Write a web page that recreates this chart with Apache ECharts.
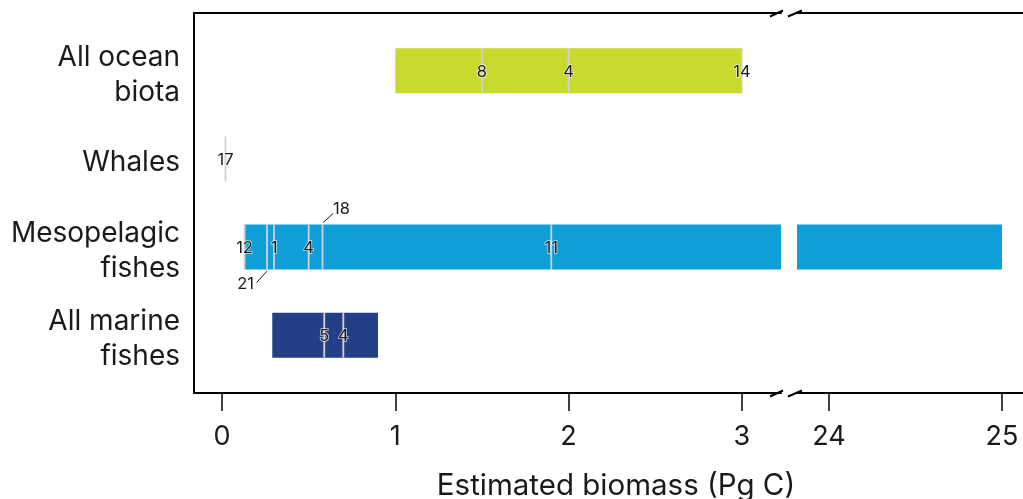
<!DOCTYPE html>
<html>
<head>
<meta charset="utf-8">
<script src="https://cdn.jsdelivr.net/npm/echarts@6/dist/echarts.min.js"></script>
<style>
html,body{margin:0;padding:0;background:#fff;}
#chart{width:1023px;height:499px;}
</style>
</head>
<body>
<div id="chart"></div>
<script>
// ---------- data ----------
const categories = ['All ocean\nbiota', 'Whales', 'Mesopelagic\nfishes', 'All marine\nfishes'];
const rangeMin = [1.0, 0.02, 0.13, 0.29];
const rangeMax = [3.0, 0.02, 25.0, 0.90];
const estCategory = [0, 0, 0, 1, 2, 2, 2, 2, 2, 2, 3, 3];
const estValue   = [1.5, 2.0, 3.0, 0.02, 0.13, 0.26, 0.30, 0.50, 0.58, 1.90, 0.59, 0.70];
const estRef     = ['8', '4', '14', '17', '12', '21', '1', '4', '18', '11', '5', '4'];
const xTicksLeft = [0, 1, 2, 3];
const xTicksRight = [24, 25];
const axisTitle = 'Estimated biomass (Pg C)';

// ---------- styles / layout ----------
const barColors = ['#C8DA2E', '#9a9a9a', '#0E9FD8', '#253E88'];
const FONT = 'Inter, "Noto Sans", sans-serif';
const TXT = '#1a1a1a';
const BAR_FRAC = 0.51;
const LABEL_SHIFT = 0.045; // small downward nudge of category labels (in category units)
const calloutDir = { '21': 'below', '18': 'above' };
const L = { left: 194, top: 13, bottom: 393, brkL: 781, brkR: 797, right: 1023 };
const Y_MIN = -0.655, Y_MAX = 3.655;
const LEFT_MIN = -0.1616, LEFT_MAX = 3.2256;
const RIGHT_MIN = 23.8153, RIGHT_MAX = 25.1212;

const chart = echarts.init(document.getElementById('chart'));

function rangeRender(params, api) {
  const cat = api.value(0), lo = api.value(1), hi = api.value(2);
  if (hi <= lo) return null;
  const p1 = api.coord([lo, cat]);
  const p2 = api.coord([hi, cat]);
  const h = api.size([0, 1])[1] * BAR_FRAC;
  const rect = echarts.graphic.clipRectByRect(
    { x: p1[0], y: p1[1] - h / 2, width: p2[0] - p1[0], height: h },
    { x: params.coordSys.x, y: params.coordSys.y, width: params.coordSys.width, height: params.coordSys.height }
  );
  if (!rect) return null;
  return { type: 'rect', shape: rect, style: { fill: barColors[cat] } };
}

function estRender(params, api) {
  const i = params.dataIndex;
  const cat = api.value(0), v = api.value(1);
  const p = api.coord([v, cat]);
  const h = api.size([0, 1])[1] * BAR_FRAC;
  const top = p[1] - h / 2, bot = p[1] + h / 2;
  const ref = estRef[i];
  const children = [{
    type: 'line',
    shape: { x1: p[0], y1: top, x2: p[0], y2: bot },
    style: { stroke: '#d2d2d2', lineWidth: 1.8 }
  }];
  let tx = p[0], ty = p[1] + 1, align = 'center';
  const dir = calloutDir[ref];
  if (dir === 'below') {
    children.push({ type: 'line', shape: { x1: p[0], y1: bot + 1.5, x2: p[0] - 10.5, y2: bot + 13 },
      style: { stroke: TXT, lineWidth: 1 } });
    tx = p[0] - 13; ty = bot + 14; align = 'right';
  } else if (dir === 'above') {
    children.push({ type: 'line', shape: { x1: p[0] + 0.5, y1: top - 2, x2: p[0] + 10.5, y2: top - 11 },
      style: { stroke: TXT, lineWidth: 1 } });
    tx = p[0] + 10.5; ty = top - 15.5; align = 'left';
  }
  children.push({
    type: 'text',
    style: {
      text: ref, x: tx, y: ty, align: align, verticalAlign: 'middle',
      fontSize: 16.5, fontFamily: FONT, fill: TXT,
      stroke: 'rgba(255,255,255,0.75)', lineWidth: 1.5
    }
  });
  return { type: 'group', children: children };
}

const rangeData = categories.map((c, i) => [i, rangeMin[i], rangeMax[i]]);
const estData = estValue.map((v, i) => [estCategory[i], v]);

const axisLineStyle = { show: true, onZero: false, lineStyle: { color: '#000', width: 2 } };

function bottomX(grid, min, max, ticks) {
  return {
    type: 'value', gridIndex: grid, position: 'bottom', min: min, max: max,
    axisLine: axisLineStyle,
    axisTick: { show: true, customValues: ticks, length: 18, lineStyle: { color: '#000', width: 1.5 } },
    axisLabel: { show: true, customValues: ticks, margin: 30, fontSize: 27, fontFamily: FONT, color: TXT },
    splitLine: { show: false }
  };
}
function topX(grid, min, max) {
  return {
    type: 'value', gridIndex: grid, position: 'top', min: min, max: max,
    axisLine: axisLineStyle, axisTick: { show: false }, axisLabel: { show: false }, splitLine: { show: false }
  };
}

const slashes = [];
[L.top, L.bottom].forEach(y => {
  slashes.push({ type: 'line', shape: { x1: 770, y1: y + 3.5, x2: 783, y2: y - 2.5 }, style: { stroke: '#000', lineWidth: 2 } });
  slashes.push({ type: 'line', shape: { x1: 788, y1: y + 3.5, x2: 802, y2: y - 2.5 }, style: { stroke: '#000', lineWidth: 2 } });
});

chart.setOption({
  animation: false,
  backgroundColor: '#fff',
  grid: [
    { left: L.left, top: L.top, width: L.brkL - L.left, height: L.bottom - L.top, containLabel: false, outerBoundsMode: 'none' },
    { left: L.brkR, top: L.top, width: L.right - L.brkR, height: L.bottom - L.top, containLabel: false, outerBoundsMode: 'none' }
  ],
  xAxis: [
    bottomX(0, LEFT_MIN, LEFT_MAX, xTicksLeft),
    topX(0, LEFT_MIN, LEFT_MAX),
    bottomX(1, RIGHT_MIN, RIGHT_MAX, xTicksRight),
    topX(1, RIGHT_MIN, RIGHT_MAX)
  ],
  yAxis: [
    {
      type: 'value', gridIndex: 0, inverse: true, min: Y_MIN, max: Y_MAX, position: 'left',
      axisLine: axisLineStyle, axisTick: { show: false }, splitLine: { show: false },
      axisLabel: {
        show: true, customValues: categories.map((c, i) => i + LABEL_SHIFT),
        formatter: v => categories[Math.round(v)],
        fontSize: 28, lineHeight: 35, fontFamily: FONT, color: TXT, margin: 14, align: 'right'
      }
    },
    {
      type: 'value', gridIndex: 1, inverse: true, min: Y_MIN, max: Y_MAX,
      axisLine: { show: false, onZero: false }, axisTick: { show: false }, axisLabel: { show: false }, splitLine: { show: false }
    }
  ],
  series: [
    { type: 'custom', xAxisIndex: 0, yAxisIndex: 0, renderItem: rangeRender, data: rangeData, z: 2 },
    { type: 'custom', xAxisIndex: 2, yAxisIndex: 1, renderItem: rangeRender, data: rangeData, z: 2 },
    { type: 'custom', xAxisIndex: 0, yAxisIndex: 0, renderItem: estRender, data: estData, z: 3 }
  ],
  graphic: slashes.concat([{
    type: 'text', x: 616, y: 486,
    style: { text: axisTitle, align: 'center', verticalAlign: 'middle', fontSize: 29.5, fontFamily: FONT, fill: TXT }
  }])
});
</script>
</body>
</html>
